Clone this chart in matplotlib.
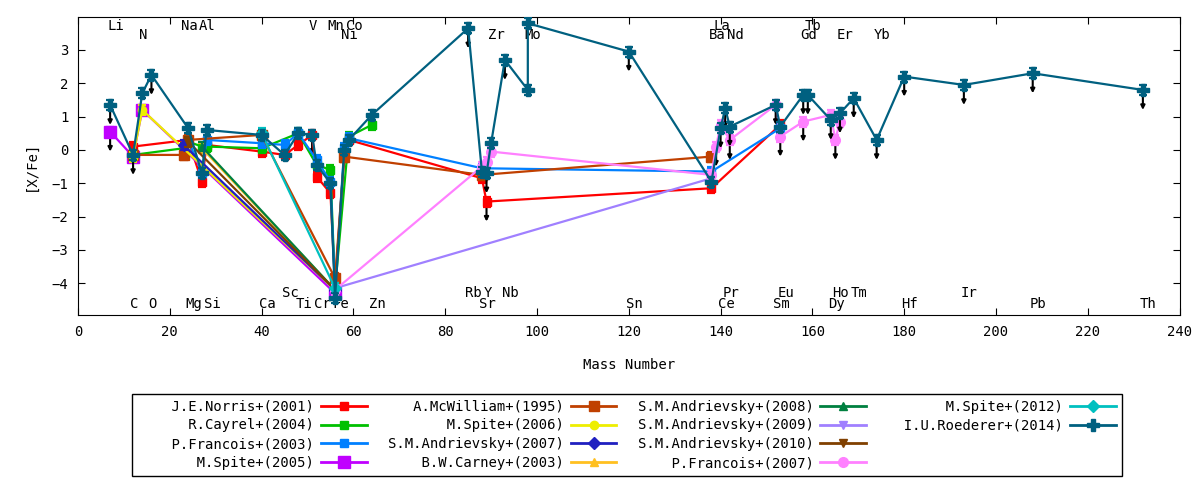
import matplotlib
matplotlib.use("Agg")
import matplotlib.pyplot as plt
from matplotlib.lines import Line2D

plt.rcParams['font.family'] = ['DejaVu Sans Mono', 'DejaVu Sans']
plt.rcParams['font.size'] = 10

# mass number of the most abundant isotope
mass = {
    'Li': 7, 'C': 12, 'N': 14, 'O': 16, 'Na': 23, 'Mg': 24, 'Al': 27, 'Si': 28,
    'Ca': 40, 'Sc': 45, 'Ti': 48, 'V': 51, 'Cr': 52, 'Mn': 55, 'Fe': 56,
    'Ni': 58, 'Co': 59, 'Zn': 64, 'Rb': 85, 'Sr': 88, 'Y': 89, 'Zr': 90,
    'Nb': 93, 'Mo': 98, 'Sn': 120, 'Ba': 138, 'La': 139, 'Ce': 140, 'Pr': 141,
    'Nd': 142, 'Sm': 152, 'Eu': 153, 'Gd': 158, 'Tb': 159, 'Dy': 164,
    'Ho': 165, 'Er': 166, 'Tm': 169, 'Yb': 174, 'Hf': 180, 'Ir': 193,
    'Pb': 208, 'Th': 232,
}

# element labels: (name, row)  T1/T2 = top rows, B1/B2 = bottom rows
label_el = ['Li', 'N', 'Na', 'Al', 'V', 'Mn', 'Co', 'Ni', 'Zr', 'Mo', 'La', 'Ba',
            'Nd', 'Tb', 'Gd', 'Er', 'Yb',
            'C', 'O', 'Mg', 'Si', 'Ca', 'Sc', 'Ti', 'Cr', 'Fe', 'Zn', 'Rb', 'Y',
            'Sr', 'Nb', 'Sn', 'Pr', 'Ce', 'Eu', 'Sm', 'Ho', 'Tm', 'Dy', 'Hf',
            'Ir', 'Pb', 'Th']
label_row = ['T1', 'T2', 'T1', 'T1', 'T1', 'T1', 'T1', 'T2', 'T2', 'T2', 'T1', 'T2',
             'T2', 'T1', 'T2', 'T2', 'T2',
             'B2', 'B2', 'B2', 'B2', 'B2', 'B1', 'B2', 'B2', 'B2', 'B2', 'B1', 'B1',
             'B2', 'B1', 'B2', 'B1', 'B2', 'B1', 'B2', 'B1', 'B1', 'B2', 'B2',
             'B1', 'B2', 'B2']
row_y = {'T1': 3.72, 'T2': 3.45, 'B1': -4.28, 'B2': -4.63}

# ---- abundances [X/Fe] (Fe point is [Fe/H]) ----
norris_el = ['C', 'Mg', 'Al', 'Si', 'Ca', 'Sc', 'Ti', 'V', 'Cr', 'Mn', 'Fe', 'Ni',
             'Co', 'Sr', 'Y', 'Ba', 'Eu']
norris_val = [0.1, 0.3, -0.95, 0.15, -0.05, -0.15, 0.15, 0.45, -0.8, -1.3, -4.1,
              -0.2, 0.3, -0.85, -1.55, -1.15, 0.75]
norris_lim = ['V', 'Y']

cayrel_el = ['C', 'Na', 'Mg', 'Al', 'Si', 'Ca', 'Ti', 'Cr', 'Mn', 'Fe', 'Co', 'Zn']
cayrel_val = [-0.15, 0.05, 0.25, 0.1, 0.1, 0.05, 0.5, -0.45, -0.6, -4.15, 0.4, 0.75]
cayrel_lim = []

francois03_el = ['Mg', 'Al', 'Si', 'Ca', 'Sc', 'Ti', 'Cr', 'Mn', 'Fe', 'Ni', 'Co',
                 'Sr', 'Ba', 'Eu']
francois03_val = [0.3, -0.7, 0.3, 0.2, 0.15, 0.5, -0.3, -0.95, -4.2, 0.05, 0.35,
                  -0.55, -0.65, 0.65]
francois03_lim = []

spite05_el = ['Li', 'C', 'N', 'Fe']
spite05_val = [0.55, -0.2, 1.2, -4.3]
spite05_lim = ['Li']

mcwilliam_el = ['C', 'Na', 'Mg', 'Ca', 'Fe', 'Ni', 'Sr', 'Ba']
mcwilliam_val = [-0.15, -0.15, 0.3, 0.45, -3.85, -0.2, -0.75, -0.2]
mcwilliam_lim = []

spite06_el = ['C', 'N', 'Fe']
spite06_val = [-0.2, 1.2, -4.2]
spite06_lim = []

andr07_el = ['Na', 'Fe']
andr07_val = [0.15, -4.2]
andr07_lim = []

carney_el = ['Al', 'Fe']
carney_val = [0.05, -4.2]
carney_lim = []

andr08_el = ['Al', 'Fe']
andr08_val = [0.1, -4.2]
andr08_lim = []

andr09_el = ['Fe', 'Ba']
andr09_val = [-4.15, -0.85]
andr09_lim = []

andr10_el = ['Mg', 'Fe']
andr10_val = [0.25, -4.2]
andr10_lim = []

francois07_el = ['Fe', 'Sr', 'Y', 'Zr', 'Ba', 'La', 'Ce', 'Nd', 'Sm', 'Eu', 'Gd',
                 'Dy', 'Ho', 'Er']
francois07_val = [-4.2, -0.5, -0.35, -0.05, -0.75, 0.1, 0.75, 0.3, 1.35, 0.4, 0.85,
                  1.05, 0.3, 0.85]
francois07_lim = ['La', 'Nd', 'Eu', 'Gd', 'Ho']

spite12_el = ['Ca', 'Fe']
spite12_val = [0.5, -4.15]
spite12_lim = []

roederer_el = ['Li', 'C', 'N', 'O', 'Mg', 'Al', 'Si', 'Ca', 'Sc', 'Ti', 'V', 'Cr',
               'Mn', 'Fe', 'Ni', 'Co', 'Zn', 'Rb', 'Sr', 'Y', 'Zr', 'Nb', 'Mo',
               'Mo', 'Sn', 'Ba', 'Ce', 'Pr', 'Nd', 'Sm', 'Eu', 'Gd', 'Tb', 'Dy',
               'Er', 'Tm', 'Yb', 'Hf', 'Ir', 'Pb', 'Th']
roederer_val = [1.35, -0.15, 1.7, 2.25, 0.65, -0.7, 0.6, 0.45, -0.15, 0.5, 0.45,
                -0.45, -1.0, -4.45, 0.0, 0.3, 1.05, 3.65, -0.65, -0.7, 0.2, 2.7,
                1.8, 3.8, 2.95, -0.95, 0.65, 1.25, 0.7, 1.35, 0.7, 1.65, 1.65, 0.9,
                1.1, 1.55, 0.3, 2.2, 1.95, 2.3, 1.8]
roederer_lim = ['Li', 'C', 'O', 'Rb', 'Y', 'Nb', 'Sn', 'Ce', 'Pr', 'Nd', 'Sm',
                'Gd', 'Tb', 'Dy', 'Er', 'Tm', 'Yb', 'Hf', 'Ir', 'Pb', 'Th']

series = [
    ('J.E.Norris+(2001)', norris_el, norris_val, norris_lim, '#ff0000', 's', 6),
    ('R.Cayrel+(2004)', cayrel_el, cayrel_val, cayrel_lim, '#00c000', 's', 6),
    ('P.Francois+(2003)', francois03_el, francois03_val, francois03_lim, '#0080ff', 's', 6),
    ('M.Spite+(2005)', spite05_el, spite05_val, spite05_lim, '#c000ff', 's', 8),
    ('A.McWilliam+(1995)', mcwilliam_el, mcwilliam_val, mcwilliam_lim, '#c04000', 's', 7),
    ('M.Spite+(2006)', spite06_el, spite06_val, spite06_lim, '#eeee00', 'o', 6),
    ('S.M.Andrievsky+(2007)', andr07_el, andr07_val, andr07_lim, '#2020c0', 'D', 6),
    ('B.W.Carney+(2003)', carney_el, carney_val, carney_lim, '#ffc020', '^', 6),
    ('S.M.Andrievsky+(2008)', andr08_el, andr08_val, andr08_lim, '#008040', '^', 6),
    ('S.M.Andrievsky+(2009)', andr09_el, andr09_val, andr09_lim, '#a080ff', 'v', 6),
    ('S.M.Andrievsky+(2010)', andr10_el, andr10_val, andr10_lim, '#804000', 'v', 6),
    ('P.Francois+(2007)', francois07_el, francois07_val, francois07_lim, '#ff80ff', 'o', 7),
    ('M.Spite+(2012)', spite12_el, spite12_val, spite12_lim, '#00c0c0', 'D', 6),
    ('I.U.Roederer+(2014)', roederer_el, roederer_val, roederer_lim, '#006080', 'P', 8),
]

fig = plt.figure(figsize=(12, 4.8), dpi=100)
ax = fig.add_axes([0.065, 0.344, 0.918, 0.62])

handles = []
labels = []
for i, (name, els, vals, lims, col, mk, ms) in enumerate(series):
    xs = [mass[e] for e in els]
    ax.errorbar(xs, vals, yerr=0.15, color=col, lw=1.6, marker=mk, ms=ms,
                capsize=3, elinewidth=1.6, capthick=1.6, zorder=2 + i * 0.1)
    # upper limits as black arrows
    for e, v in zip(els, vals):
        if e in lims:
            ax.annotate('', xy=(mass[e], v - 0.6), xytext=(mass[e], v - 0.12),
                        arrowprops=dict(arrowstyle='-|>', color='black', lw=1.5,
                                        mutation_scale=6, shrinkA=0, shrinkB=0),
                        zorder=2 + i * 0.1 - 0.05)
    handles.append(Line2D([], [], color=col, lw=2, marker=mk, ms=ms))
    labels.append(name.rjust(21))

# two empty slots so the columns fill 4-4-4-2 like the original key
for _ in range(2):
    handles.append(Line2D([], [], color='none'))
    labels.append(' ' * 21)

for e, r in zip(label_el, label_row):
    ax.annotate(e, (mass[e], row_y[r]), xytext=(-3, 0), textcoords='offset pixels',
                ha='left', va='center', fontsize=10, zorder=1)

ax.set_xlim(0, 240)
ax.set_ylim(-4.95, 3.98)
ax.set_xticks(range(0, 241, 20))
ax.set_yticks(range(-4, 4))
ax.tick_params(direction='in', length=5, top=True, right=True, pad=7)
ax.set_xlabel('Mass Number', labelpad=14)
ax.set_ylabel('[X/Fe]', labelpad=10)

fig.legend(handles, labels, ncol=4, loc='upper center',
           bbox_to_anchor=(627 / 1200, 1 - 394 / 480),
           markerfirst=False, fancybox=False, edgecolor='black',
           framealpha=1, handlelength=3.3, handletextpad=0.5,
           columnspacing=1.52, labelspacing=0.35, borderaxespad=0,
           borderpad=0.4, fontsize=10)

fig.savefig('out.png', dpi=100)
